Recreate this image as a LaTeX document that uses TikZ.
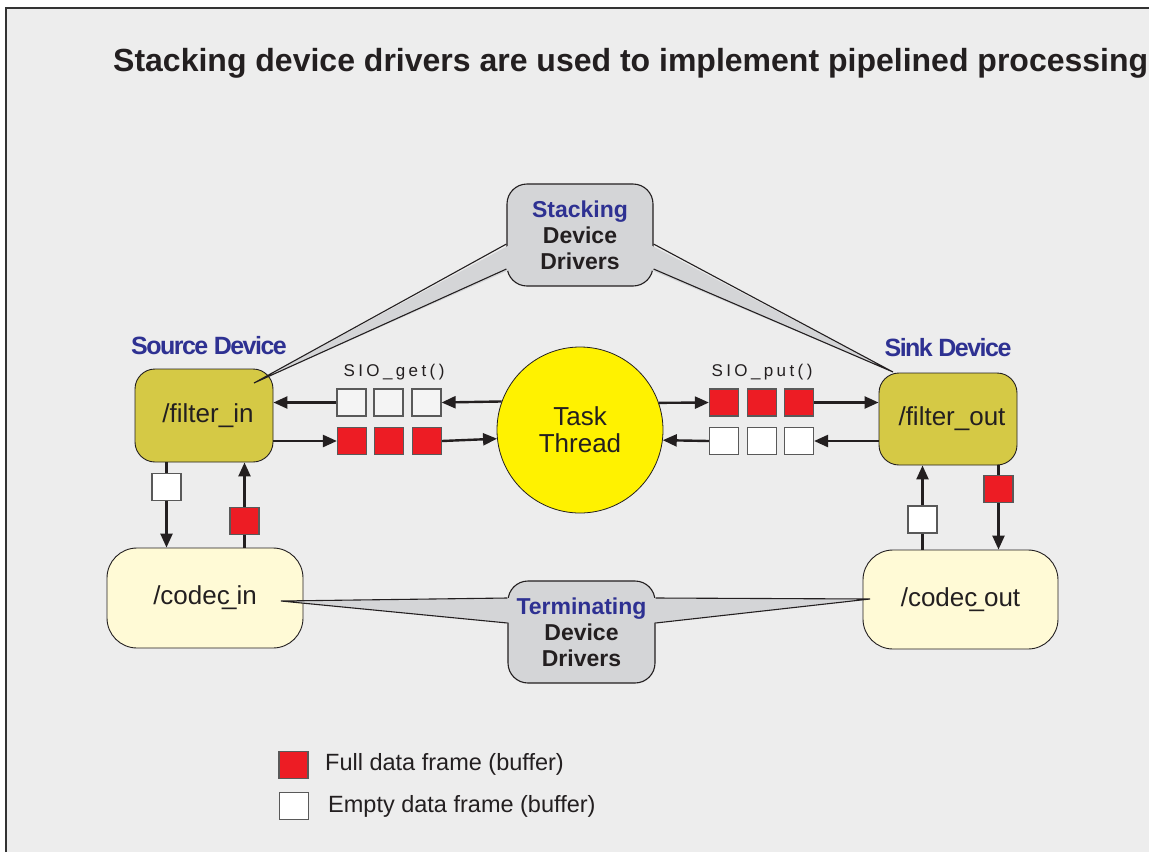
\documentclass[tikz,border=0pt]{standalone}
\usepackage{fontspec}
\setmainfont{Liberation Sans}
\usetikzlibrary{arrows.meta,calc}

\definecolor{ink}{HTML}{231F20}
\definecolor{panel}{HTML}{EDEDED}
\definecolor{frameline}{HTML}{333333}
\definecolor{olive}{HTML}{D5C945}
\definecolor{cream}{HTML}{FFFAD6}
\definecolor{callgray}{HTML}{D4D5D7}
\definecolor{navy}{HTML}{2E3192}
\definecolor{fullred}{HTML}{ED1C24}
\definecolor{sunny}{HTML}{FFF200}
\definecolor{emptygray}{HTML}{F4F4F4}

\tikzset{
  devbox/.style={draw=ink, line width=0.9pt, rounded corners=20pt, fill=olive,
    minimum width=138pt, minimum height=93pt, inner sep=0pt, text=ink,
    font=\fontsize{26}{28}\selectfont},
  codecbox/.style={draw=ink, line width=0.9pt, rounded corners=30pt, fill=cream,
    minimum width=196pt, minimum height=100pt, inner sep=0pt, text=ink,
    font=\fontsize{26}{28}\selectfont},
  callbox/.style={draw=ink, line width=1.1pt, rounded corners=20pt, fill=callgray,
    minimum width=146pt, minimum height=102pt, inner sep=0pt, text=ink, align=center,
    font=\bfseries\fontsize{23}{26}\selectfont},
  tailline/.style={draw=ink, line width=1.1pt, line join=miter},
  buf/.style={draw=black!65, line width=1.2pt, minimum width=29pt, minimum height=27pt,
    inner sep=0pt, fill=#1},
  arr/.style={draw=ink, line width=2.4pt, -{Triangle[length=14pt,width=12pt]}},
  heading/.style={text=navy, inner sep=0pt,
    font=\bfseries\fontsize{25}{28}\selectfont\addfontfeature{LetterSpace=-6}},
  call/.style={text=ink, inner sep=0pt,
    font=\fontsize{17}{20}\selectfont\addfontfeature{LetterSpace=20}},
  legendtext/.style={text=ink, inner sep=0pt, anchor=west,
    font=\fontsize{23.5}{26}\selectfont},
}

\begin{document}
\begin{tikzpicture}[x=1pt, y=-1pt]
  \useasboundingbox (0,0) rectangle (1149,852);
  \fill[white] (0,0) rectangle (1149,852);

  % panel with its left and top border
  \fill[panel] (6,8) rectangle (1149,852);
  \draw[frameline, line width=1.6pt] (6,852) -- (6,8) -- (1149,8);

  % heading
  \node[anchor=base west, inner sep=0pt, text=ink,
        font=\bfseries\fontsize{32}{36}\selectfont] (title) at (113,71)
    {Stacking device drivers are used to implement pipelined processing};

  % devices
  \node[devbox] (fin)  at (204,415.5) {\hspace*{8pt}/filter\_in};
  \node[devbox, minimum height=92pt] (fout) at (948,419) {\hspace*{8pt}/filter\_out};
  \node[codecbox] (cin)  at (205,598) {/codec\kern-0.3em\_in};
  \node[codecbox, minimum width=195pt, minimum height=99pt] (cout) at (960.5,599.5)
    {/codec\kern-0.3em\_out};

  \node[heading] (srclabel)  at (209,346) {Source Device};
  \node[heading] (sinklabel) at (948,348) {Sink Device};

  % task thread
  \node[circle, draw=ink, line width=0.8pt, fill=sunny, minimum size=166pt,
        inner sep=0pt, align=center, text=ink,
        font=\fontsize{26}{27}\selectfont] (task) at (580,430) {Task\\Thread};

  % callout boxes
  \node[callbox] (stk)  at (580,235)   {\textcolor{navy}{Stacking}\\Device\\Drivers};
  \node[callbox, minimum width=147pt] (term) at (581.5,632)
    {\textcolor{navy}{Terminating}\\Device\\Drivers};

  % callout tails
  \coordinate (tipSL) at (254,383);
  \coordinate (tipSR) at (893,372);
  \coordinate (tipTL) at (281,601);
  \coordinate (tipTR) at (870,599);

  \fill[callgray] ($(stk.west |- 0,244)+(5,0)$) -- (tipSL) -- ($(stk.west |- 0,269)+(5,0)$) -- cycle;
  \draw[tailline] (stk.west |- 0,244) -- (tipSL) -- (stk.west |- 0,269);
  \fill[callgray] ($(stk.east |- 0,244)+(-5,0)$) -- (tipSR) -- ($(stk.east |- 0,269)+(-5,0)$) -- cycle;
  \draw[tailline] (stk.east |- 0,244) -- (tipSR) -- (stk.east |- 0,269);

  \fill[callgray] ($(term.west |- 0,598)+(5,0)$) -- (tipTL) -- ($(term.west |- 0,623)+(5,0)$) -- cycle;
  \draw[tailline] (term.west |- 0,598) -- (tipTL) -- (term.west |- 0,623);
  \fill[callgray] ($(term.east |- 0,598)+(-5,0)$) -- (tipTR) -- ($(term.east |- 0,623)+(-5,0)$) -- cycle;
  \draw[tailline] (term.east |- 0,598) -- (tipTR) -- (term.east |- 0,623);

  % SIO_get buffers
  \node[buf=emptygray] (g1) at (351.5,402.5) {};
  \node[buf=emptygray] (g2) at (388.5,402.5) {};
  \node[buf=emptygray] (g3) at (426.5,402.5) {};
  \node[buf=fullred]   (f1) at (352,441) {};
  \node[buf=fullred]   (f2) at (389,441) {};
  \node[buf=fullred]   (f3) at (427,441) {};
  \node[call] (getlabel) at (394,372) {SIO\_get()};

  % SIO_put buffers
  \node[buf=fullred] (p1) at (724,402.5) {};
  \node[buf=fullred] (p2) at (762,402.5) {};
  \node[buf=fullred] (p3) at (799,402.5) {};
  \node[buf=white]   (e1) at (724,441) {};
  \node[buf=white]   (e2) at (762,441) {};
  \node[buf=white]   (e3) at (799,441) {};
  \node[call] (putlabel) at (762,372) {SIO\_put()};

  % horizontal flow
  \draw[arr] (task.160.3) -- (g3.east);
  \draw[arr] (g1.west) -- (fin.east |- g1.west);
  \draw[arr] (fin.east |- f1.west) -- (f1.west);
  \draw[arr] (f3.east) -- (task.186.9);
  \draw[arr] (task.19.7) -- (p1.west);
  \draw[arr] (p3.east) -- (fout.west |- p3.east);
  \draw[arr] (fout.west |- e3.east) -- (e3.east);
  \draw[arr] (e1.west) -- (task.353.1);

  % vertical flow between the device layers
  \coordinate (xl1) at (166.5,0);
  \coordinate (xl2) at (244.5,0);
  \coordinate (xr1) at (922.5,0);
  \coordinate (xr2) at (998.5,0);
  \draw[arr] (fin.south -| xl1) -- (cin.north -| xl1);
  \draw[arr] (cin.north -| xl2) -- (fin.south -| xl2);
  \draw[arr] (cout.north -| xr1) -- (fout.south -| xr1);
  \draw[arr] (fout.south -| xr2) -- (cout.north -| xr2);
  \node[buf=white]   (lw) at (xl1 |- 0,487) {};
  \node[buf=fullred] (lr) at (xl2 |- 0,521) {};
  \node[buf=white]   (rw) at (xr1 |- 0,519.5) {};
  \node[buf=fullred] (rr) at (xr2 |- 0,489) {};

  % legend
  \node[buf=fullred] (legfull)  at (293.5,765) {};
  \node[buf=white]   (legempty) at (294,806) {};
  \node[legendtext] (legfulltext)  at (325,764) {Full data frame (buffer)};
  \node[legendtext] (legemptytext) at (328,806) {Empty data frame (buffer)};
\end{tikzpicture}
\end{document}
